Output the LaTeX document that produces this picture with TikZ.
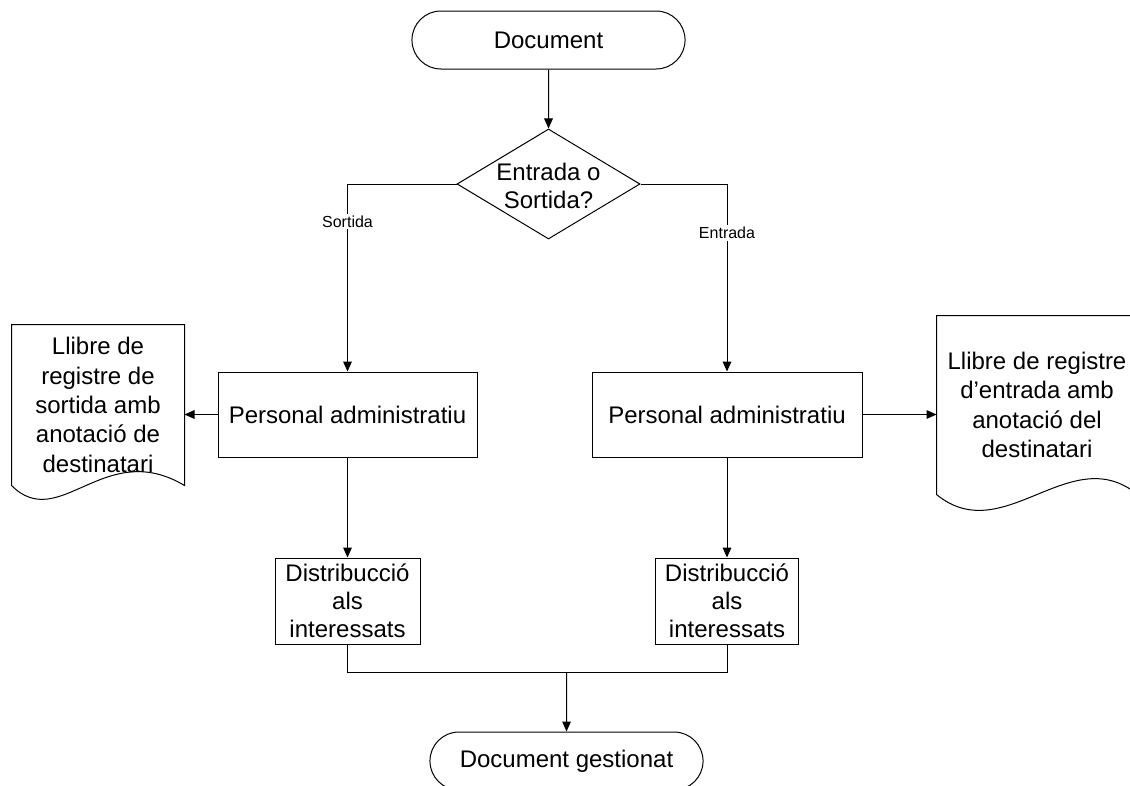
\documentclass[tikz,border=0pt]{standalone}
\usepackage{fontspec}
\setmainfont{Liberation Sans}
\usetikzlibrary{shapes.geometric,shapes.misc,arrows.meta,calc}

\begin{document}
\begin{tikzpicture}[
    x=0.75pt, y=-0.75pt,
    line width=0.75pt,
    every node/.style={font=\fontsize{18pt}{21pt}\selectfont},
    terminal/.style={rounded rectangle, draw, minimum width=211.5pt, minimum height=43.5pt},
    decision/.style={diamond, draw, minimum width=137.25pt, minimum height=82.5pt, inner sep=0pt},
    process/.style={rectangle, draw, align=center, minimum height=63.75pt},
    docbox/.style={rectangle, align=center, inner sep=0pt, font=\fontsize{18pt}{22pt}\selectfont},
    answer/.style={fill=white, inner sep=1.5pt, font=\fontsize{12pt}{14pt}\selectfont},
    arrow/.style={-{Triangle[length=7.5pt,width=6.5pt]}}
]
    \useasboundingbox (0,0) rectangle (1130,785);
    \clip (0,0) rectangle (1130,785);

    % Start node
    \node[terminal] (start) at (548.5,40) {Document};

    % Decision node
    \node[decision] (decide) at (548.5,184) {};
    \node[align=center] (decidetext) at (548.5,186) {Entrada o\\Sortida?};

    % Staff nodes
    \node[process, minimum width=194.25pt] (outstaff) at (347.5,414.5) {Personal administratiu};
    \node[process, minimum width=202.5pt] (instaff) at (727,414.5) {Personal administratiu};

    % Distribution nodes
    \node[process, inner ysep=0pt, minimum width=108.75pt, minimum height=64.5pt] (outdist) at (347.5,601) {Distribucció\\als\\interessats};
    \node[process, inner ysep=0pt, minimum width=107.25pt, minimum height=64.5pt] (indist) at (727,601) {Distribucció\\als\\interessats};

    % Register books
    \node[docbox, minimum width=129pt, minimum height=120pt] (outbook) at (98,405) {Llibre de\\registre de\\sortida amb\\anotació de\\destinatari};
    \node[docbox, minimum width=150pt, minimum height=133.5pt] (inbook) at (1037,405) {Llibre de registre\\d’entrada amb\\anotació del\\destinatari};
    \draw (outbook.south east) -- (outbook.north east) -- (outbook.north west) -- (outbook.south west)
        .. controls ($(outbook.south west)+(48,48)$) and ($(outbook.south east)+(-80,-48)$) .. (outbook.south east) -- cycle;
    \draw (inbook.south east) -- (inbook.north east) -- (inbook.north west) -- (inbook.south west)
        .. controls ($(inbook.south west)+(67,55)$) and ($(inbook.south east)+(-67,-55)$) .. (inbook.south east) -- cycle;

    % End node
    \node[terminal] (finish) at (566.5,761) {Document gestionat};
    \coordinate (merge) at (566.5,672);

    % Connections and labels
    \draw[arrow] (start) -- (decide);
    \draw[arrow] (decide.west) -| node[answer, pos=0.6] (sortida) {Sortida} (outstaff);
    \draw[arrow] (decide.east) -| node[answer, pos=0.63] (entrada) {Entrada} (instaff);
    \draw[arrow] (outstaff) -- (outstaff -| outbook.east);
    \draw[arrow] (instaff) -- (instaff -| inbook.west);
    \draw[arrow] (outstaff) -- (outdist);
    \draw[arrow] (instaff) -- (indist);
    \draw (outdist) |- (merge) -| (indist);
    \draw[arrow] (merge) -- (finish);
\end{tikzpicture}
\end{document}
